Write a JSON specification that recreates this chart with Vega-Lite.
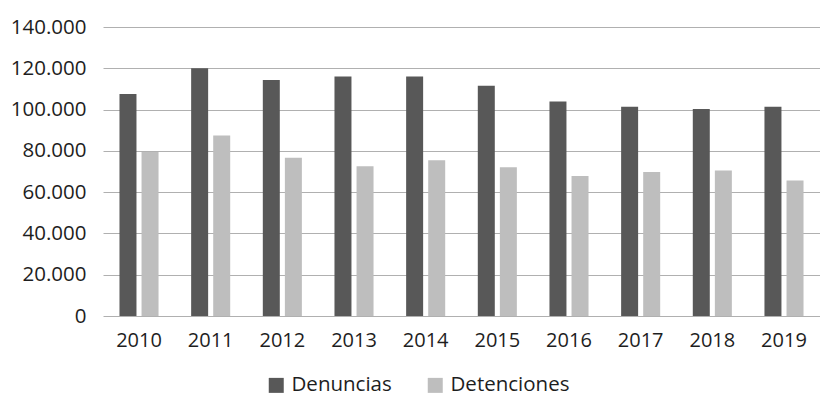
{
  "$schema": "https://vega.github.io/schema/vega-lite/v6.json",
  "width": 717,
  "height": 289,
  "autosize": {"type": "none"},
  "padding": {"left": 103, "top": 27, "right": 0, "bottom": 83},
  "background": "white",
  "data": {
    "values": [
      {"year": "2010", "serie": "Denuncias", "valor": 107500},
      {"year": "2010", "serie": "Detenciones", "valor": 79500},
      {"year": "2011", "serie": "Denuncias", "valor": 120000},
      {"year": "2011", "serie": "Detenciones", "valor": 87400},
      {"year": "2012", "serie": "Denuncias", "valor": 114300},
      {"year": "2012", "serie": "Detenciones", "valor": 76700},
      {"year": "2013", "serie": "Denuncias", "valor": 116000},
      {"year": "2013", "serie": "Detenciones", "valor": 72500},
      {"year": "2014", "serie": "Denuncias", "valor": 116000},
      {"year": "2014", "serie": "Detenciones", "valor": 75400},
      {"year": "2015", "serie": "Denuncias", "valor": 111600},
      {"year": "2015", "serie": "Detenciones", "valor": 72100},
      {"year": "2016", "serie": "Denuncias", "valor": 103900},
      {"year": "2016", "serie": "Detenciones", "valor": 67800},
      {"year": "2017", "serie": "Denuncias", "valor": 101400},
      {"year": "2017", "serie": "Detenciones", "valor": 69700},
      {"year": "2018", "serie": "Denuncias", "valor": 100300},
      {"year": "2018", "serie": "Detenciones", "valor": 70500},
      {"year": "2019", "serie": "Denuncias", "valor": 101400},
      {"year": "2019", "serie": "Detenciones", "valor": 65700}
    ]
  },
  "mark": {"type": "bar"},
  "encoding": {
    "x": {
      "field": "year",
      "type": "nominal",
      "scale": {"paddingInner": 0.455, "paddingOuter": 0.23},
      "axis": {
        "title": null,
        "labelAngle": 0,
        "ticks": false,
        "domain": false,
        "labelPadding": 14,
        "labelFont": "Open Sans",
        "labelFontSize": 20,
        "labelColor": "#1e1e1e"
      }
    },
    "xOffset": {
      "field": "serie",
      "type": "nominal",
      "scale": {"paddingInner": 0.23}
    },
    "y": {
      "field": "valor",
      "type": "quantitative",
      "scale": {"domain": [0, 140000], "nice": false},
      "axis": {
        "title": null,
        "values": [0, 20000, 40000, 60000, 80000, 100000, 120000, 140000],
        "labelExpr": "replace(format(datum.value, ','), ',', '.')",
        "ticks": false,
        "domain": false,
        "labelPadding": 17,
        "labelFont": "Open Sans",
        "labelFontSize": 20.5,
        "labelColor": "#1e1e1e",
        "gridColor": "#b0b0b0",
        "gridWidth": 1
      }
    },
    "color": {
      "field": "serie",
      "type": "nominal",
      "scale": {"domain": ["Denuncias", "Detenciones"], "range": ["#585858", "#bebebe"]},
      "legend": {
        "title": null,
        "orient": "none",
        "direction": "horizontal",
        "legendX": 163,
        "legendY": 348,
        "symbolType": "square",
        "symbolSize": 225,
        "symbolStrokeWidth": 0,
        "labelFont": "Open Sans",
        "labelFontSize": 20.5,
        "labelColor": "#1e1e1e",
        "labelOffset": 5,
        "columnPadding": 33
      }
    }
  },
  "config": {"view": {"stroke": null}}
}
